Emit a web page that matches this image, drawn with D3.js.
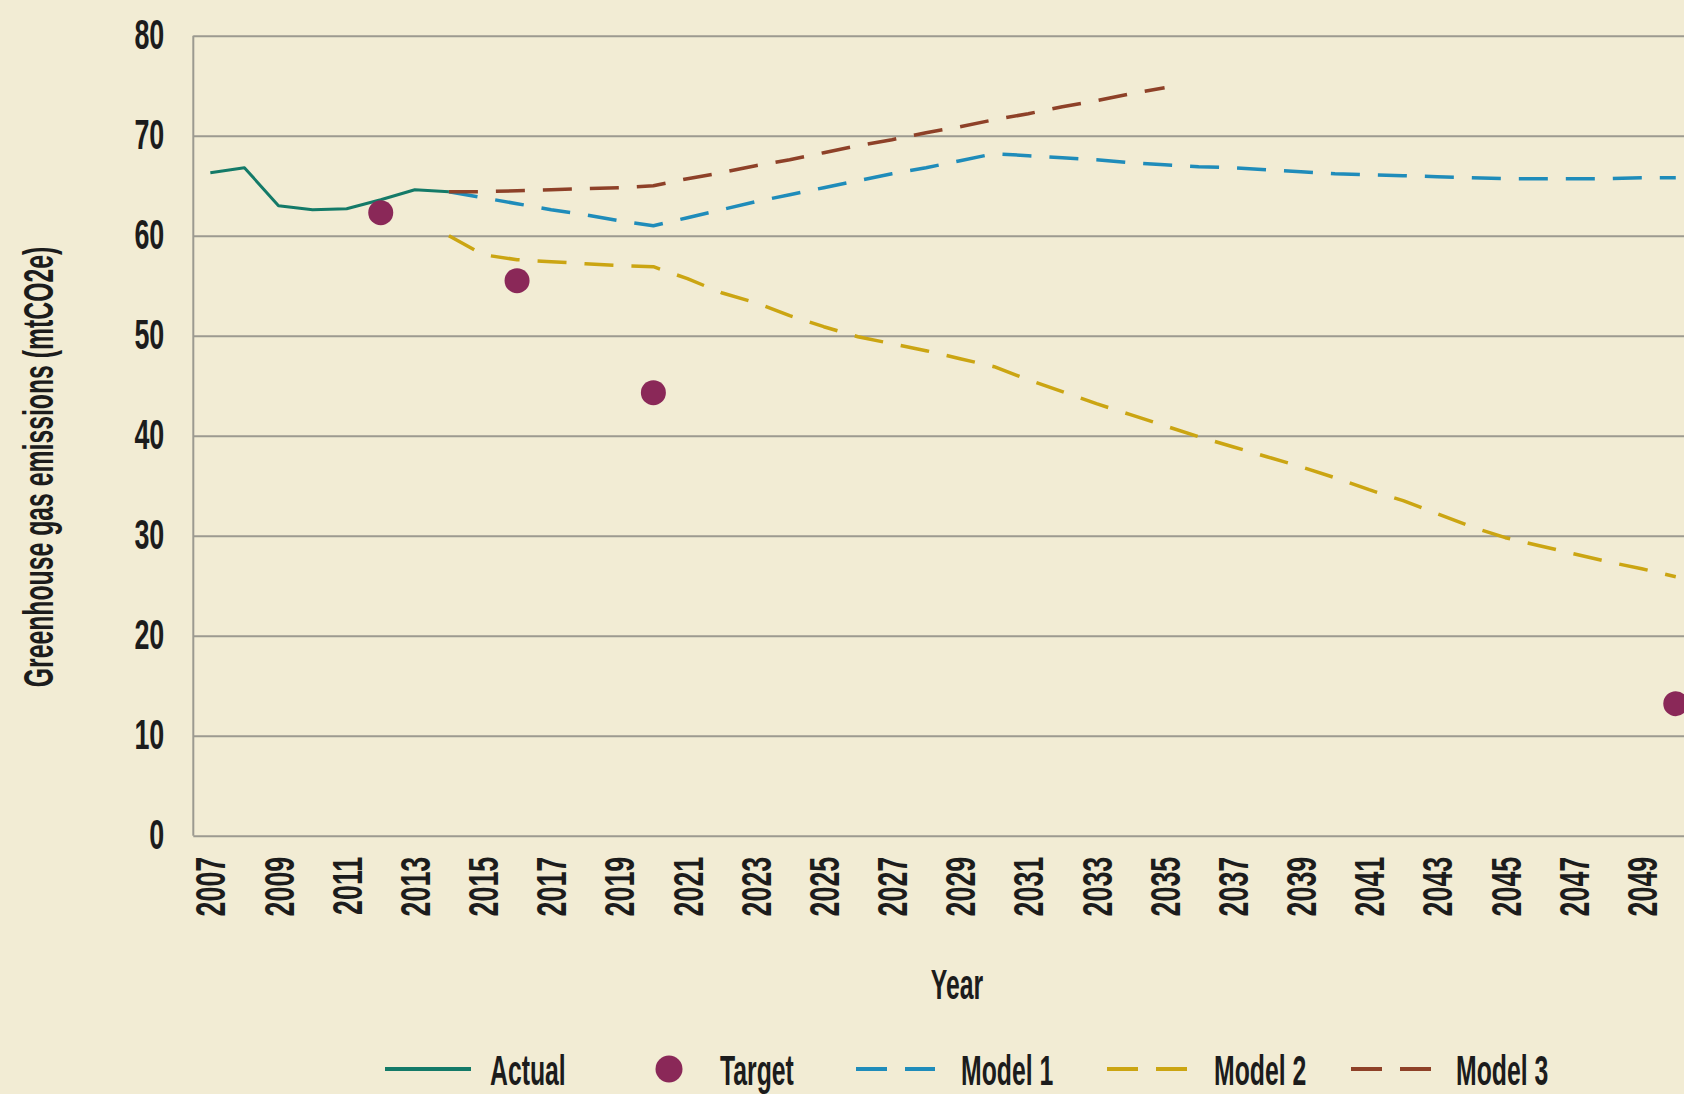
<!DOCTYPE html>
<html>
<head>
<meta charset="utf-8">
<script src="https://cdn.jsdelivr.net/npm/d3@7/dist/d3.min.js"></script>
<style>
  html, body { margin: 0; padding: 0; background: #f2ecd4; overflow: hidden; }
  svg { display: block; }
  text { font-family: "Liberation Sans", Arial, sans-serif; font-weight: bold; fill: #1c1c1c; }
</style>
</head>
<body>
<div id="chart"></div>
<script>
// categories / ticks
const years = d3.range(2007, 2051);
const xTickLabels = ['2007', '2009', '2011', '2013', '2015', '2017', '2019', '2021', '2023', '2025', '2027',
  '2029', '2031', '2033', '2035', '2037', '2039', '2041', '2043', '2045', '2047', '2049'];
const yTickValues = [0, 10, 20, 30, 40, 50, 60, 70, 80];

// Actual 2007-2014
const actualYears = [2007, 2008, 2009, 2010, 2011, 2012, 2013, 2014];
const actualValues = [66.3, 66.8, 63.0, 62.6, 62.7, 63.6, 64.6, 64.4];

// Targets
const targetYears = [2012, 2016, 2020, 2050];
const targetValues = [62.3, 55.5, 44.3, 13.2];

// Model 1 2014-2050
const model1Years = d3.range(2014, 2051);
const model1Values = [64.4, 63.8, 63.2, 62.6, 62.1, 61.5, 61.0, 61.8, 62.6, 63.4, 64.1, 64.8, 65.5, 66.2,
  66.8, 67.5, 68.2, 68.0, 67.8, 67.6, 67.3, 67.1, 66.9, 66.8, 66.6, 66.4, 66.2, 66.1, 66.0, 65.9, 65.8,
  65.7, 65.7, 65.7, 65.7, 65.8, 65.8];

// Model 2 2014-2050
const model2Years = d3.range(2014, 2051);
const model2Values = [60.0, 58.1, 57.6, 57.4, 57.2, 57.0, 56.9, 55.7, 54.3, 53.3, 52.0, 50.9, 49.9, 49.2,
  48.5, 47.7, 46.9, 45.6, 44.4, 43.2, 42.1, 41.0, 39.9, 38.9, 37.9, 36.9, 35.8, 34.6, 33.5, 32.2, 30.9,
  29.8, 29.0, 28.2, 27.4, 26.7, 25.9];

// Model 3 2014-2035
const model3Years = d3.range(2014, 2036);
const model3Values = [64.4, 64.4, 64.5, 64.6, 64.7, 64.8, 65.0, 65.7, 66.3, 67.0, 67.6, 68.3, 69.0, 69.6,
  70.3, 70.9, 71.6, 72.2, 72.9, 73.5, 74.2, 74.8];

const colors = {
  actual: '#147a68',
  target: '#8a2858',
  model1: '#1f8cba',
  model2: '#cba512',
  model3: '#8e4128'
};

const W = 1684, H = 1094;
const margin = { top: 35.7, left: 193.3 };
const bandW = 34.08;
const plotW = years.length * bandW;
const plotH = 800;
const SX = 0.64;  // horizontal squeeze for digits (condensed face)
const SXW = 0.59; // squeeze for words

const svg = d3.select('#chart').append('svg')
  .attr('width', W)
  .attr('height', H);

svg.append('rect').attr('width', W).attr('height', H).attr('fill', '#f2ecd4');

const g = svg.append('g')
  .attr('transform', 'translate(' + margin.left + ',' + margin.top + ')');

const x = d3.scaleBand().domain(years).range([0, plotW]).padding(0);
const y = d3.scaleLinear().domain([0, 80]).range([plotH, 0]);
const cx = yr => x(yr) + x.bandwidth() / 2;

// gridlines + y labels
const yAxis = g.append('g')
  .call(d3.axisLeft(y).tickValues(yTickValues).tickSize(-plotW).tickFormat(d3.format('d')));
yAxis.select('.domain').remove();
yAxis.selectAll('.tick line').attr('stroke', '#9c9a90').attr('stroke-width', 2);
yAxis.selectAll('.tick text')
  .attr('x', -29 / SX)
  .attr('dy', '0.3em')
  .attr('transform', 'scale(' + SX + ',1)')
  .style('font-size', '42px')
  .style('fill', '#1c1c1c');

// y axis line
g.append('line')
  .attr('x1', 0).attr('x2', 0)
  .attr('y1', y(80)).attr('y2', y(0))
  .attr('stroke', '#9c9a90').attr('stroke-width', 2);

// x axis labels
const xAxis = g.append('g')
  .attr('transform', 'translate(0,' + plotH + ')')
  .call(d3.axisBottom(x).tickValues(xTickLabels.map(Number)).tickSize(0));
xAxis.select('.domain').remove();
xAxis.selectAll('.tick text')
  .attr('x', 0).attr('y', 0)
  .attr('dy', '0.36em')
  .attr('transform', 'translate(0,21) rotate(-90) scale(' + SX + ',1)')
  .style('text-anchor', 'end')
  .style('font-size', '42px')
  .style('fill', '#1c1c1c');

// lines
const line = d3.line()
  .x(d => cx(d[0]))
  .y(d => y(d[1]));

const series = [
  { years: model2Years, values: model2Values, color: colors.model2, dash: '29,18' },
  { years: model1Years, values: model1Values, color: colors.model1, dash: '29,18' },
  { years: model3Years, values: model3Values, color: colors.model3, dash: '29,18' },
  { years: actualYears, values: actualValues, color: colors.actual, dash: null }
];

series.forEach(s => {
  g.append('path')
    .datum(d3.zip(s.years, s.values))
    .attr('fill', 'none')
    .attr('stroke', s.color)
    .attr('stroke-width', s.dash ? 3.5 : 3)
    .attr('stroke-dasharray', s.dash)
    .attr('stroke-linejoin', 'round')
    .attr('d', line);
});

g.selectAll('circle.target')
  .data(d3.zip(targetYears, targetValues))
  .enter().append('circle')
  .attr('class', 'target')
  .attr('cx', d => cx(d[0]))
  .attr('cy', d => y(d[1]))
  .attr('r', 12.5)
  .attr('fill', colors.target);

// axis titles
svg.append('text')
  .attr('transform', 'translate(957,999) scale(' + SXW + ',1)')
  .style('text-anchor', 'middle')
  .style('font-size', '42px')
  .text('Year');

svg.append('text')
  .attr('transform', 'translate(53,467) rotate(-90) scale(' + SXW + ',1)')
  .style('text-anchor', 'middle')
  .style('font-size', '42px')
  .text('Greenhouse gas emissions (mtCO2e)');

// legend
const legendY = 1069;
const legend = [
  { name: 'Actual', kind: 'solid', color: colors.actual, x0: 385, x1: 471, tx: 490 },
  { name: 'Target', kind: 'dot', color: colors.target, x0: 669, x1: 669, tx: 720 },
  { name: 'Model 1', kind: 'dash', color: colors.model1, x0: 856, x1: 935, tx: 961 },
  { name: 'Model 2', kind: 'dash', color: colors.model2, x0: 1107, x1: 1190, tx: 1214 },
  { name: 'Model 3', kind: 'dash', color: colors.model3, x0: 1351, x1: 1434, tx: 1456 }
];

legend.forEach(l => {
  if (l.kind === 'dot') {
    svg.append('circle')
      .attr('cx', l.x0).attr('cy', legendY).attr('r', 13.5)
      .attr('fill', l.color);
  } else {
    svg.append('line')
      .attr('x1', l.x0).attr('x2', l.x1)
      .attr('y1', legendY).attr('y2', legendY)
      .attr('stroke', l.color)
      .attr('stroke-width', 4)
      .attr('stroke-dasharray', l.kind === 'dash' ? '31,18' : null);
  }
  svg.append('text')
    .attr('transform', 'translate(' + l.tx + ',' + (legendY + 16) + ') scale(' + SXW + ',1)')
    .style('font-size', '42px')
    .text(l.name);
});
</script>
</body>
</html>
